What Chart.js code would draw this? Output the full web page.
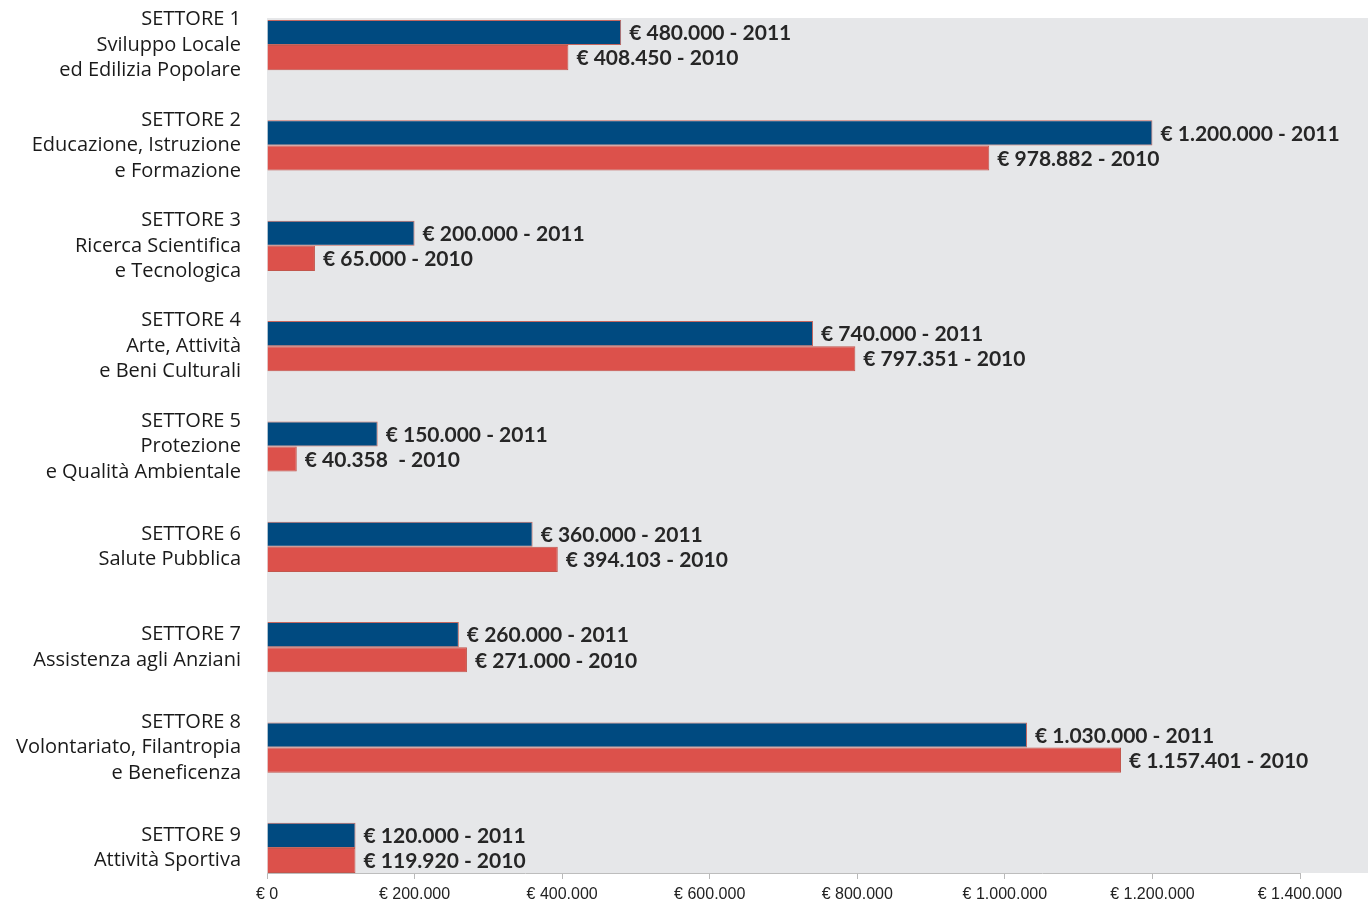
<!DOCTYPE html>
<html>
<head>
<meta charset="utf-8">
<script src="https://cdn.jsdelivr.net/npm/chart.js@4.4.1/dist/chart.umd.min.js"></script>
<style>
  html, body { margin: 0; padding: 0; background: #ffffff; }
  #wrap { width: 1372px; height: 905px; position: relative; }
</style>
</head>
<body>
<div id="wrap"><canvas id="c" width="1372" height="905"></canvas></div>
<script>
// ---- Data ----
const categories = [
  ["SETTORE 1", "Sviluppo Locale", "ed Edilizia Popolare"],
  ["SETTORE 2", "Educazione, Istruzione", "e Formazione"],
  ["SETTORE 3", "Ricerca Scientifica", "e Tecnologica"],
  ["SETTORE 4", "Arte, Attività", "e Beni Culturali"],
  ["SETTORE 5", "Protezione", "e Qualità Ambientale"],
  ["SETTORE 6", "Salute Pubblica"],
  ["SETTORE 7", "Assistenza agli Anziani"],
  ["SETTORE 8", "Volontariato, Filantropia", "e Beneficenza"],
  ["SETTORE 9", "Attività Sportiva"]
];
const values2011 = [480000, 1200000, 200000, 740000, 150000, 360000, 260000, 1030000, 120000];
const values2010 = [408450, 978882, 65000, 797351, 40358, 394103, 271000, 1157401, 119920];
const labels2011 = ["€ 480.000 - 2011", "€ 1.200.000 - 2011", "€ 200.000 - 2011", "€ 740.000 - 2011",
  "€ 150.000 - 2011", "€ 360.000 - 2011", "€ 260.000 - 2011", "€ 1.030.000 - 2011", "€ 120.000 - 2011"];
const labels2010 = ["€ 408.450 - 2010", "€ 978.882 - 2010", "€ 65.000 - 2010", "€ 797.351 - 2010",
  "€ 40.358  - 2010", "€ 394.103 - 2010", "€ 271.000 - 2010", "€ 1.157.401 - 2010", "€ 119.920 - 2010"];
const xTickValues = [0, 200000, 400000, 600000, 800000, 1000000, 1200000, 1400000];
const xTickLabels = ["€ 0", "€ 200.000", "€ 400.000", "€ 600.000", "€ 800.000", "€ 1.000.000", "€ 1.200.000", "€ 1.400.000"];

// ---- Plugins ----
const plotBg = {
  id: 'plotBg',
  beforeDraw(chart) {
    const { ctx, chartArea } = chart;
    ctx.save();
    ctx.fillStyle = '#e6e7e9';
    ctx.fillRect(chartArea.left, chartArea.top, chart.width - 4 - chartArea.left, chartArea.bottom - chartArea.top);
    ctx.restore();
  }
};
const valueLabels = {
  id: 'valueLabels',
  afterDatasetsDraw(chart) {
    const { ctx } = chart;
    const texts = [labels2011, labels2010];
    ctx.save();
    ctx.font = 'bold 21px Lato, "Open Sans", sans-serif';
    ctx.fillStyle = '#262626';
    ctx.textBaseline = 'middle';
    ctx.textAlign = 'left';
    chart.data.datasets.forEach((ds, di) => {
      chart.getDatasetMeta(di).data.forEach((bar, i) => {
        ctx.fillText(texts[di][i], bar.x + 8, bar.y + 1);
      });
    });
    ctx.restore();
  }
};

const toPoints = arr => arr.map((v, i) => ({ x: v, y: i }));

new Chart(document.getElementById('c'), {
  type: 'bar',
  data: {
    datasets: [
      { label: '2011', data: toPoints(values2011), backgroundColor: '#004a80', borderColor: 'rgba(190,80,70,0.85)', borderWidth: 1, borderSkipped: 'start', categoryPercentage: 0.5, barPercentage: 1, clip: false },
      { label: '2010', data: toPoints(values2010), backgroundColor: '#dc514b', borderColor: 'rgba(190,70,60,0.9)', borderWidth: 1, borderSkipped: 'start', categoryPercentage: 0.5, barPercentage: 1, clip: false }
    ]
  },
  options: {
    indexAxis: 'y',
    responsive: false,
    animation: false,
    devicePixelRatio: 1,
    layout: { padding: { top: 18, right: 72, bottom: 0, left: 0 } },
    plugins: { legend: { display: false }, tooltip: { enabled: false } },
    scales: {
      x: {
        type: 'linear',
        min: 0,
        max: 1400000,
        afterBuildTicks(scale) { scale.ticks = xTickValues.map(v => ({ value: v })); },
        afterFit(scale) { scale.height = 32; scale.paddingLeft = 0; scale.paddingRight = 0; },
        ticks: {
          callback: (v) => xTickLabels[xTickValues.indexOf(v)],
          font: { family: '"Liberation Sans", Arial, sans-serif', size: 16 },
          color: '#222222',
          padding: 6,
          maxRotation: 0,
          autoSkip: false
        },
        grid: { drawOnChartArea: false, drawTicks: true, tickLength: 6, color: '#b9b9b9' },
        border: { display: true, color: '#bdbdbd', width: 1 }
      },
      y: {
        type: 'linear',
        offset: false,
        min: -0.27,
        max: 8.25,
        reverse: true,
        afterBuildTicks(scale) { scale.ticks = categories.map((_, i) => ({ value: i })); },
        afterFit(scale) { scale.width = 267; scale.paddingTop = 0; scale.paddingBottom = 0; },
        ticks: {
          callback: (v) => categories[v],
          font: { family: '"Open Sans", Lato, sans-serif', size: 20, lineHeight: 1.275 },
          color: '#1a1a1a',
          padding: 26,
          autoSkip: false
        },
        grid: { display: false, drawTicks: false, offset: false },
        border: { display: false }
      }
    }
  },
  plugins: [plotBg, valueLabels]
});
</script>
</body>
</html>
